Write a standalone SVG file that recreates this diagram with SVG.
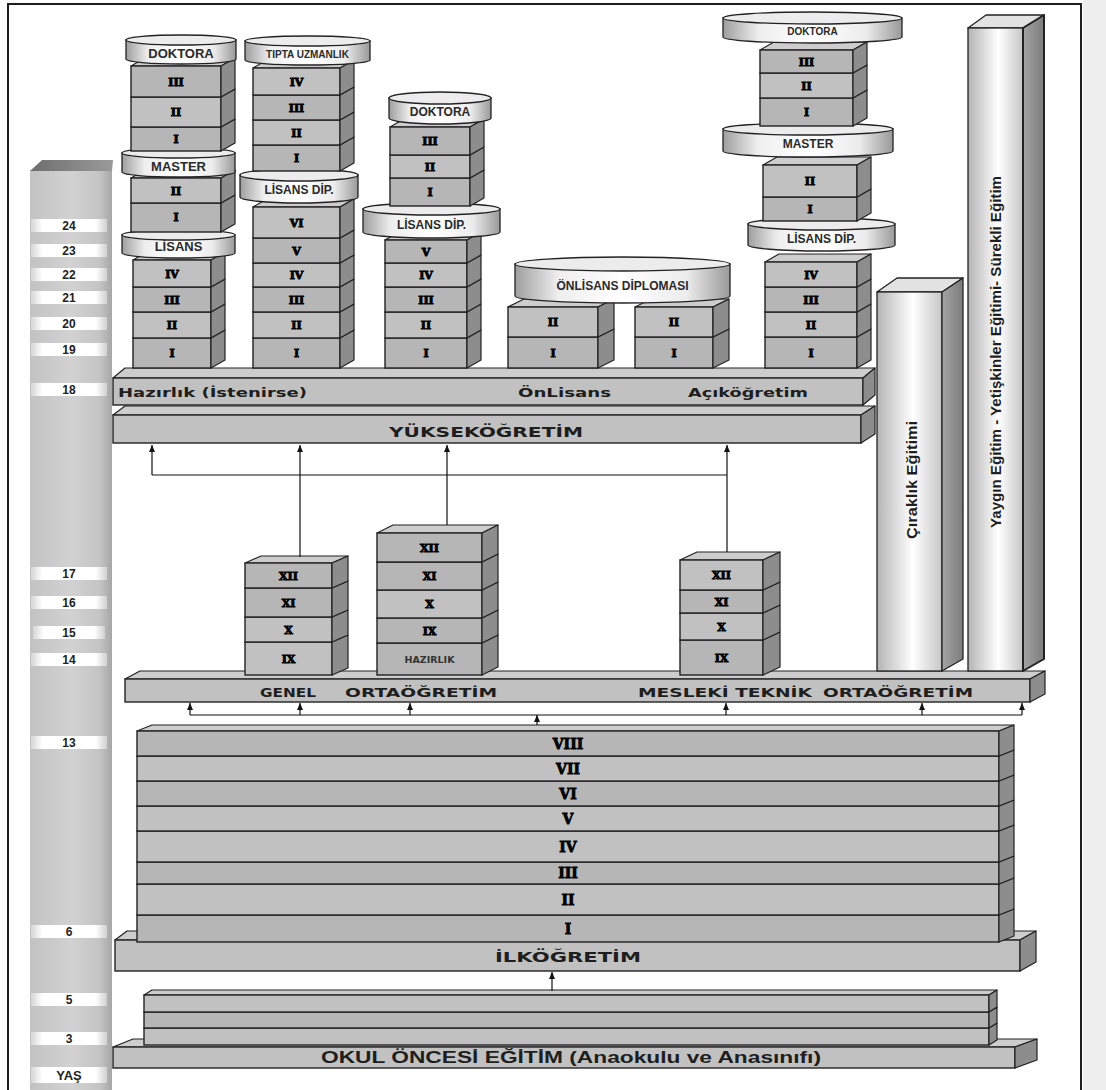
<svg xmlns="http://www.w3.org/2000/svg" width="1106" height="1090" viewBox="0 0 1106 1090">
<defs>
<linearGradient id="gCyl" x1="0" y1="0" x2="1" y2="0">
<stop offset="0" stop-color="#9e9e9e"/><stop offset="0.2" stop-color="#eeeeee"/><stop offset="0.5" stop-color="#ffffff"/><stop offset="0.8" stop-color="#ececec"/><stop offset="1" stop-color="#999999"/>
</linearGradient>
<linearGradient id="gCol" x1="0" y1="0" x2="1" y2="0">
<stop offset="0" stop-color="#b4b4b4"/><stop offset="0.55" stop-color="#ffffff"/><stop offset="1" stop-color="#c6c6c6"/>
</linearGradient>
<linearGradient id="gColS" x1="0" y1="0" x2="1" y2="0">
<stop offset="0" stop-color="#a4a4a4"/><stop offset="1" stop-color="#7c7c7c"/>
</linearGradient>
<linearGradient id="gAge" x1="0" y1="0" x2="1" y2="0">
<stop offset="0" stop-color="#c2c2c2"/><stop offset="0.5" stop-color="#d2d2d2"/><stop offset="0.85" stop-color="#c4c4c4"/><stop offset="1" stop-color="#a6a6a6"/>
</linearGradient>
<linearGradient id="gAgeTop" x1="0" y1="0" x2="1" y2="0">
<stop offset="0" stop-color="#6e6e6e"/><stop offset="1" stop-color="#9a9a9a"/>
</linearGradient>
<linearGradient id="gPill" x1="0" y1="0" x2="1" y2="0">
<stop offset="0" stop-color="#d6d6d6"/><stop offset="0.15" stop-color="#ffffff"/><stop offset="0.85" stop-color="#ffffff"/><stop offset="1" stop-color="#d0d0d0"/>
</linearGradient>
<marker id="ar" markerWidth="8" markerHeight="8" refX="7" refY="4" orient="auto" markerUnits="userSpaceOnUse">
<path d="M0,1 L7,4 L0,7 z" fill="#111"/>
</marker>
<style>
.a{fill:#b6b6b6;stroke:#222;stroke-width:1.4}
.b{fill:#c1c1c1;stroke:#222;stroke-width:1.4}
.s{fill:#8d8d8d;stroke:#222;stroke-width:1.2;stroke-linejoin:round}
.t{fill:#cdcdcd;stroke:#222;stroke-width:1.2;stroke-linejoin:round}
.cb{fill:url(#gCyl);stroke:#222;stroke-width:1.3}
.ct{fill:#ececec;stroke:#222;stroke-width:1.3}
.col{fill:url(#gCol);stroke:#222;stroke-width:1.3}
.cols{fill:url(#gColS);stroke:#222;stroke-width:1.3;stroke-linejoin:round}
.colt{fill:#e2e2e2;stroke:#222;stroke-width:1.3;stroke-linejoin:round}
.rn{font-family:"DejaVu Serif",serif;font-weight:bold;font-size:11px;text-anchor:middle;fill:#000;stroke:#000;stroke-width:0.9}
.rg{font-family:"DejaVu Serif",serif;font-weight:bold;font-size:14px;text-anchor:middle;fill:#000;stroke:#000;stroke-width:0.8}
.cl{font-family:"Liberation Sans",Arial,sans-serif;font-weight:bold;font-size:12px;text-anchor:middle;fill:#2a2a2a}
.bl{font-family:"DejaVu Sans",Verdana,sans-serif;font-weight:bold;font-size:13px;fill:#1e1e1e}
.vt{font-family:"Liberation Sans",Arial,sans-serif;font-weight:bold;font-size:15px;text-anchor:middle;fill:#1e1e1e}
.ag{font-family:"Liberation Sans",Arial,sans-serif;font-weight:bold;font-size:12px;text-anchor:middle;fill:#222}
.pl{fill:url(#gPill)}
.cn{stroke:#111;stroke-width:1.2;fill:none}
</style>
</defs>
<rect width="1106" height="1090" fill="#ffffff"/>
<rect x="1083" y="0" width="23" height="1090" fill="#eeeeee"/>
<rect x="8" y="4" width="1073" height="1100" fill="none" stroke="#1e1e1e" stroke-width="2"/>

<g id="age-column">
<rect x="30" y="170" width="82" height="925" fill="url(#gAge)"/>
<path d="M30,171 L42,160 H113 L112,171 Z" fill="url(#gAgeTop)"/>
<rect class="pl" x="31" y="219" width="76" height="13"/><text class="ag" x="69" y="230">24</text>
<rect class="pl" x="31" y="244" width="76" height="13"/><text class="ag" x="69" y="255">23</text>
<rect class="pl" x="31" y="268" width="76" height="13"/><text class="ag" x="69" y="279">22</text>
<rect class="pl" x="31" y="291" width="76" height="13"/><text class="ag" x="69" y="302">21</text>
<rect class="pl" x="31" y="317" width="76" height="13"/><text class="ag" x="69" y="328">20</text>
<rect class="pl" x="31" y="343" width="76" height="13"/><text class="ag" x="69" y="354">19</text>
<rect class="pl" x="31" y="383" width="76" height="13"/><text class="ag" x="69" y="394">18</text>
<rect class="pl" x="31" y="567" width="76" height="13"/><text class="ag" x="69" y="578">17</text>
<rect class="pl" x="31" y="596" width="76" height="13"/><text class="ag" x="69" y="607">16</text>
<rect class="pl" x="33" y="626" width="72" height="13"/><text class="ag" x="69" y="637">15</text>
<rect class="pl" x="31" y="653" width="76" height="13"/><text class="ag" x="69" y="664">14</text>
<rect class="pl" x="31" y="736" width="76" height="13"/><text class="ag" x="69" y="747">13</text>
<rect class="pl" x="31" y="925" width="76" height="13"/><text class="ag" x="69" y="936">6</text>
<rect class="pl" x="31" y="993" width="76" height="13"/><text class="ag" x="69" y="1004">5</text>
<rect class="pl" x="31" y="1032" width="76" height="13"/><text class="ag" x="69" y="1043">3</text>
<rect class="pl" x="31" y="1067" width="76" height="16"/><text class="ag" x="69" y="1080" style="font-size:13px">YAŞ</text>
</g>

<g id="hazirlik-bar">
<path class="t" d="M113,378 l12,-10 h750 l-12,10 z"/>
<rect class="b" x="113" y="378" width="750" height="27"/>
<path class="s" d="M863,378 l12,-10 v27 l-12,10 z"/>
<text class="bl" x="118" y="397" textLength="189" lengthAdjust="spacingAndGlyphs">Hazırlık (İstenirse)</text>
<text class="bl" x="518" y="397" textLength="93" lengthAdjust="spacingAndGlyphs">ÖnLisans</text>
<text class="bl" x="688" y="397" textLength="120" lengthAdjust="spacingAndGlyphs">Açıköğretim</text>
</g>
<g id="yuksekogretim-bar">
<path class="t" d="M113,415 l12,-9 h750 l-14,9 z"/>
<rect class="b" x="113" y="415" width="748" height="28"/>
<path class="s" d="M861,415 l14,-9 v28 l-14,9 z"/>
<text class="bl" x="486" y="437" text-anchor="middle" textLength="194" lengthAdjust="spacingAndGlyphs" style="font-size:14px">YÜKSEKÖĞRETİM</text>
</g>

<g id="stack-lisans">
<rect class="a" x="133" y="338" width="78" height="30"/><path class="s" d="M211,338 l14,-8 v30 l-14,8 z"/><text class="rn" x="172" y="357">I</text>
<rect class="b" x="133" y="312" width="78" height="26"/><path class="s" d="M211,312 l14,-8 v26 l-14,8 z"/><text class="rn" x="172" y="329">II</text>
<rect class="a" x="133" y="287" width="78" height="25"/><path class="s" d="M211,287 l14,-8 v25 l-14,8 z"/><text class="rn" x="172" y="304">III</text>
<path class="t" d="M133,260 l14,-8 h78 l-14,8 z"/>
<rect class="b" x="133" y="260" width="78" height="27"/><path class="s" d="M211,260 l14,-8 v27 l-14,8 z"/><text class="rn" x="172" y="278">IV</text>
<path class="cb" d="M122,235 V253 A56.5,5 0 0 0 235,253 V235 Z"/><ellipse class="ct" cx="178.5" cy="235" rx="56.5" ry="5"/>
<text class="cl" x="178.5" y="251" style="font-size:13px">LİSANS</text>
<rect class="a" x="131" y="203" width="90" height="29"/><path class="s" d="M221,203 l14,-8 v29 l-14,8 z"/><text class="rn" x="176" y="221">I</text>
<path class="t" d="M131,178 l14,-8 h90 l-14,8 z"/>
<rect class="b" x="131" y="178" width="90" height="25"/><path class="s" d="M221,178 l14,-8 v25 l-14,8 z"/><text class="rn" x="176" y="195">II</text>
<path class="cb" d="M122,153 V172 A56.5,5 0 0 0 235,172 V153 Z"/><ellipse class="ct" cx="178.5" cy="153" rx="56.5" ry="5"/>
<text class="cl" x="178.5" y="171" style="font-size:13px">MASTER</text>
<rect class="a" x="131" y="127" width="90" height="24"/><path class="s" d="M221,127 l14,-8 v24 l-14,8 z"/><text class="rn" x="176" y="143">I</text>
<rect class="b" x="131" y="97" width="90" height="30"/><path class="s" d="M221,97 l14,-8 v30 l-14,8 z"/><text class="rn" x="176" y="116">II</text>
<path class="t" d="M131,66 l14,-8 h90 l-14,8 z"/>
<rect class="a" x="131" y="66" width="90" height="31"/><path class="s" d="M221,66 l14,-8 v31 l-14,8 z"/><text class="rn" x="176" y="86">III</text>
<path class="cb" d="M126,40 V59 A55,5 0 0 0 236,59 V40 Z"/><ellipse class="ct" cx="181" cy="40" rx="55" ry="5"/>
<text class="cl" x="181" y="58" style="font-size:13px">DOKTORA</text>
</g>

<g id="stack-tip">
<rect class="a" x="253" y="338" width="87" height="30"/><path class="s" d="M340,338 l14,-8 v30 l-14,8 z"/><text class="rn" x="296.5" y="357">I</text>
<rect class="b" x="253" y="312" width="87" height="26"/><path class="s" d="M340,312 l14,-8 v26 l-14,8 z"/><text class="rn" x="296.5" y="329">II</text>
<rect class="a" x="253" y="287" width="87" height="25"/><path class="s" d="M340,287 l14,-8 v25 l-14,8 z"/><text class="rn" x="296.5" y="304">III</text>
<rect class="b" x="253" y="263" width="87" height="24"/><path class="s" d="M340,263 l14,-8 v24 l-14,8 z"/><text class="rn" x="296.5" y="279">IV</text>
<rect class="a" x="253" y="238" width="87" height="25"/><path class="s" d="M340,238 l14,-8 v25 l-14,8 z"/><text class="rn" x="296.5" y="255">V</text>
<path class="t" d="M253,207 l14,-8 h87 l-14,8 z"/>
<rect class="b" x="253" y="207" width="87" height="31"/><path class="s" d="M340,207 l14,-8 v31 l-14,8 z"/><text class="rn" x="296.5" y="227">VI</text>
<path class="cb" d="M240,175 V197 A59,6 0 0 0 358,197 V175 Z"/><ellipse class="ct" cx="299" cy="175" rx="59" ry="6"/>
<text class="cl" x="299" y="194">LİSANS DİP.</text>
<rect class="a" x="253" y="145" width="87" height="26"/><path class="s" d="M340,145 l14,-8 v26 l-14,8 z"/><text class="rn" x="296.5" y="162">I</text>
<rect class="b" x="253" y="120" width="87" height="25"/><path class="s" d="M340,120 l14,-8 v25 l-14,8 z"/><text class="rn" x="296.5" y="137">II</text>
<rect class="a" x="253" y="95" width="87" height="25"/><path class="s" d="M340,95 l14,-8 v25 l-14,8 z"/><text class="rn" x="296.5" y="112">III</text>
<path class="t" d="M253,68 l14,-8 h87 l-14,8 z"/>
<rect class="b" x="253" y="68" width="87" height="27"/><path class="s" d="M340,68 l14,-8 v27 l-14,8 z"/><text class="rn" x="296.5" y="86">IV</text>
<path class="cb" d="M245,41 V60 A62.5,5 0 0 0 370,60 V41 Z"/><ellipse class="ct" cx="307.5" cy="41" rx="62.5" ry="5"/>
<text class="cl" x="307.5" y="58" style="font-size:10px">TIPTA UZMANLIK</text>
</g>

<g id="stack-doktora-mid">
<rect class="a" x="385" y="338" width="82" height="30"/><path class="s" d="M467,338 l14,-8 v30 l-14,8 z"/><text class="rn" x="426" y="357">I</text>
<rect class="b" x="385" y="312" width="82" height="26"/><path class="s" d="M467,312 l14,-8 v26 l-14,8 z"/><text class="rn" x="426" y="329">II</text>
<rect class="a" x="385" y="287" width="82" height="25"/><path class="s" d="M467,287 l14,-8 v25 l-14,8 z"/><text class="rn" x="426" y="304">III</text>
<rect class="b" x="385" y="263" width="82" height="24"/><path class="s" d="M467,263 l14,-8 v24 l-14,8 z"/><text class="rn" x="426" y="279">IV</text>
<path class="t" d="M385,240 l14,-8 h82 l-14,8 z"/>
<rect class="a" x="385" y="240" width="82" height="23"/><path class="s" d="M467,240 l14,-8 v23 l-14,8 z"/><text class="rn" x="426" y="256">V</text>
<path class="cb" d="M363,209 V232 A68.5,6 0 0 0 500,232 V209 Z"/><ellipse class="ct" cx="431.5" cy="209" rx="68.5" ry="6"/>
<text class="cl" x="431.5" y="229">LİSANS DİP.</text>
<rect class="a" x="390" y="178" width="80" height="28"/><path class="s" d="M470,178 l14,-8 v28 l-14,8 z"/><text class="rn" x="430" y="196">I</text>
<rect class="b" x="390" y="155" width="80" height="23"/><path class="s" d="M470,155 l14,-8 v23 l-14,8 z"/><text class="rn" x="430" y="171">II</text>
<path class="t" d="M390,127 l14,-8 h80 l-14,8 z"/>
<rect class="a" x="390" y="127" width="80" height="28"/><path class="s" d="M470,127 l14,-8 v28 l-14,8 z"/><text class="rn" x="430" y="145">III</text>
<path class="cb" d="M389,98 V118 A51,6 0 0 0 491,118 V98 Z"/><ellipse class="ct" cx="440" cy="98" rx="51" ry="6"/>
<text class="cl" x="440" y="116">DOKTORA</text>
</g>

<g id="stack-onlisans">
<rect class="a" x="508" y="337" width="90" height="31"/><path class="s" d="M598,337 l16,-8 v31 l-16,8 z"/><text class="rn" x="553" y="357">I</text>
<path class="t" d="M508,307 l16,-8 h90 l-16,8 z"/>
<rect class="b" x="508" y="307" width="90" height="30"/><path class="s" d="M598,307 l16,-8 v30 l-16,8 z"/><text class="rn" x="553" y="326">II</text>
<rect class="a" x="635" y="337" width="78" height="31"/><path class="s" d="M713,337 l16,-8 v31 l-16,8 z"/><text class="rn" x="674" y="357">I</text>
<path class="t" d="M635,307 l16,-8 h78 l-16,8 z"/>
<rect class="b" x="635" y="307" width="78" height="30"/><path class="s" d="M713,307 l16,-8 v30 l-16,8 z"/><text class="rn" x="674" y="326">II</text>
<path class="cb" d="M515,264 V296 A107.5,7 0 0 0 730,296 V264 Z"/><ellipse class="ct" cx="622.5" cy="264" rx="107.5" ry="7"/>
<text class="cl" x="622.5" y="290">ÖNLİSANS DİPLOMASI</text>
</g>

<g id="stack-right">
<rect class="a" x="765" y="337" width="92" height="31"/><path class="s" d="M857,337 l14,-8 v31 l-14,8 z"/><text class="rn" x="811" y="357">I</text>
<rect class="b" x="765" y="312" width="92" height="25"/><path class="s" d="M857,312 l14,-8 v25 l-14,8 z"/><text class="rn" x="811" y="329">II</text>
<rect class="a" x="765" y="287" width="92" height="25"/><path class="s" d="M857,287 l14,-8 v25 l-14,8 z"/><text class="rn" x="811" y="304">III</text>
<path class="t" d="M765,262 l14,-8 h92 l-14,8 z"/>
<rect class="b" x="765" y="262" width="92" height="25"/><path class="s" d="M857,262 l14,-8 v25 l-14,8 z"/><text class="rn" x="811" y="279">IV</text>
<path class="cb" d="M748,224 V245 A73.5,6 0 0 0 895,245 V224 Z"/><ellipse class="ct" cx="821.5" cy="224" rx="73.5" ry="6"/>
<text class="cl" x="821.5" y="243">LİSANS DİP.</text>
<rect class="a" x="763" y="197" width="94" height="24"/><path class="s" d="M857,197 l14,-8 v24 l-14,8 z"/><text class="rn" x="810" y="213">I</text>
<path class="t" d="M763,165 l14,-8 h94 l-14,8 z"/>
<rect class="b" x="763" y="165" width="94" height="32"/><path class="s" d="M857,165 l14,-8 v32 l-14,8 z"/><text class="rn" x="810" y="185">II</text>
<path class="cb" d="M723,129 V151 A85,6 0 0 0 893,151 V129 Z"/><ellipse class="ct" cx="808" cy="129" rx="85" ry="6"/>
<text class="cl" x="808" y="148">MASTER</text>
<rect class="a" x="760" y="98" width="93" height="28"/><path class="s" d="M853,98 l14,-8 v28 l-14,8 z"/><text class="rn" x="806.5" y="116">I</text>
<rect class="b" x="760" y="73" width="93" height="25"/><path class="s" d="M853,73 l14,-8 v25 l-14,8 z"/><text class="rn" x="806.5" y="90">II</text>
<path class="t" d="M760,50 l14,-8 h93 l-14,8 z"/>
<rect class="a" x="760" y="50" width="93" height="23"/><path class="s" d="M853,50 l14,-8 v23 l-14,8 z"/><text class="rn" x="806.5" y="66">III</text>
<path class="cb" d="M723,18 V37 A89.5,6 0 0 0 902,37 V18 Z"/><ellipse class="ct" cx="812.5" cy="18" rx="89.5" ry="6"/>
<text class="cl" x="812.5" y="35" style="font-size:10px">DOKTORA</text>
</g>

<g id="ortaogretim-bar">
<path class="t" d="M125,679 l15,-8 h905 l-15,8 z"/>
<rect class="b" x="125" y="679" width="905" height="23"/>
<path class="s" d="M1030,679 l15,-8 v23 l-15,8 z"/>
<text class="bl" x="260" y="697" textLength="56" lengthAdjust="spacingAndGlyphs">GENEL</text>
<text class="bl" x="345" y="697" textLength="152" lengthAdjust="spacingAndGlyphs">ORTAÖĞRETİM</text>
<text class="bl" x="638" y="697" textLength="174" lengthAdjust="spacingAndGlyphs">MESLEKİ TEKNİK</text>
<text class="bl" x="823" y="697" textLength="150" lengthAdjust="spacingAndGlyphs">ORTAÖĞRETİM</text>
</g>

<g id="ciraklik">
<path class="colt" d="M877,292 L897,278 H963 L942,292 Z"/>
<rect class="col" x="877" y="292" width="65" height="379"/>
<path class="cols" d="M942,292 L963,278 V659 L942,671 Z"/>
<text class="vt" transform="translate(912,480) rotate(-90)" x="0" y="5" textLength="118" lengthAdjust="spacingAndGlyphs">Çıraklık Eğitimi</text>
</g>
<g id="yaygin">
<path class="colt" d="M968,28 L986,15 H1044 L1023,28 Z"/>
<rect class="col" x="968" y="28" width="55" height="643"/>
<path class="cols" d="M1023,28 L1044,15 V659 L1023,671 Z" style="stroke-width:2"/>
<text class="vt" transform="translate(996,352) rotate(-90)" x="0" y="5" textLength="352" lengthAdjust="spacingAndGlyphs">Yaygın Eğitim - Yetişkinler Eğitimi- Sürekli Eğitim</text>
</g>

<g id="stack-genel">
<rect class="b" x="245" y="642" width="87" height="33"/><path class="s" d="M332,642 l16,-7 v33 l-16,7 z"/><text class="rn" x="288.5" y="663">IX</text>
<rect class="b" x="245" y="617" width="87" height="25"/><path class="s" d="M332,617 l16,-7 v25 l-16,7 z"/><text class="rn" x="288.5" y="634">X</text>
<rect class="a" x="245" y="588" width="87" height="29"/><path class="s" d="M332,588 l16,-7 v29 l-16,7 z"/><text class="rn" x="288.5" y="607">XI</text>
<path class="t" d="M245,563 l16,-7 h87 l-16,7 z"/>
<rect class="a" x="245" y="563" width="87" height="25"/><path class="s" d="M332,563 l16,-7 v25 l-16,7 z"/><text class="rn" x="288.5" y="580">XII</text>
</g>
<g id="stack-hazirlik">
<rect class="a" x="377" y="643" width="105" height="32"/><path class="s" d="M482,643 l16,-8 v32 l-16,8 z"/>
<text x="429.5" y="663" text-anchor="middle" style="font-family:'DejaVu Sans',Verdana,sans-serif;font-weight:bold;font-size:9.5px;fill:#333">HAZIRLIK</text>
<rect class="a" x="377" y="618" width="105" height="25"/><path class="s" d="M482,618 l16,-8 v25 l-16,8 z"/><text class="rn" x="429.5" y="635">IX</text>
<rect class="b" x="377" y="590" width="105" height="28"/><path class="s" d="M482,590 l16,-8 v28 l-16,8 z"/><text class="rn" x="429.5" y="608">X</text>
<rect class="a" x="377" y="562" width="105" height="28"/><path class="s" d="M482,562 l16,-8 v28 l-16,8 z"/><text class="rn" x="429.5" y="580">XI</text>
<path class="t" d="M377,533 l16,-8 h105 l-16,8 z"/>
<rect class="a" x="377" y="533" width="105" height="29"/><path class="s" d="M482,533 l16,-8 v29 l-16,8 z"/><text class="rn" x="429.5" y="552">XII</text>
</g>
<g id="stack-meslek">
<rect class="a" x="680" y="640" width="83" height="35"/><path class="s" d="M763,640 l17,-8 v35 l-17,8 z"/><text class="rn" x="721.5" y="662">IX</text>
<rect class="b" x="680" y="613" width="83" height="27"/><path class="s" d="M763,613 l17,-8 v27 l-17,8 z"/><text class="rn" x="721.5" y="631">X</text>
<rect class="a" x="680" y="590" width="83" height="23"/><path class="s" d="M763,590 l17,-8 v23 l-17,8 z"/><text class="rn" x="721.5" y="606">XI</text>
<path class="t" d="M680,560 l17,-8 h83 l-17,8 z"/>
<rect class="b" x="680" y="560" width="83" height="30"/><path class="s" d="M763,560 l17,-8 v30 l-17,8 z"/><text class="rn" x="721.5" y="579">XII</text>
</g>

<g id="ilkogretim-bar">
<path class="t" d="M115,940 l12,-9 h909 l-16,9 z"/>
<rect class="b" x="115" y="940" width="905" height="31"/>
<path class="s" d="M1020,940 l16,-9 v31 l-16,9 z"/>
<text class="bl" x="568" y="962" text-anchor="middle" textLength="146" lengthAdjust="spacingAndGlyphs" style="font-size:14px">İLKÖĞRETİM</text>
</g>
<g id="ilkogretim-grades">
<rect class="a" x="137" y="915" width="862" height="27"/><path class="s" d="M999,915 l15,-6 v27 l-15,6 z"/><text class="rg" x="568" y="934">I</text>
<rect class="b" x="137" y="884" width="862" height="31"/><path class="s" d="M999,884 l15,-6 v31 l-15,6 z"/><text class="rg" x="568" y="905">II</text>
<rect class="a" x="137" y="862" width="862" height="22"/><path class="s" d="M999,862 l15,-6 v22 l-15,6 z"/><text class="rg" x="568" y="878">III</text>
<rect class="b" x="137" y="831" width="862" height="31"/><path class="s" d="M999,831 l15,-6 v31 l-15,6 z"/><text class="rg" x="568" y="852">IV</text>
<rect class="b" x="137" y="806" width="862" height="25"/><path class="s" d="M999,806 l15,-6 v25 l-15,6 z"/><text class="rg" x="568" y="824">V</text>
<rect class="a" x="137" y="781" width="862" height="25"/><path class="s" d="M999,781 l15,-6 v25 l-15,6 z"/><text class="rg" x="568" y="799">VI</text>
<rect class="b" x="137" y="756" width="862" height="25"/><path class="s" d="M999,756 l15,-6 v25 l-15,6 z"/><text class="rg" x="568" y="774">VII</text>
<path class="t" d="M137,731 l15,-6 h862 l-15,6 z"/>
<rect class="a" x="137" y="731" width="862" height="25"/><path class="s" d="M999,731 l15,-6 v25 l-15,6 z"/><text class="rg" x="568" y="749">VIII</text>
</g>

<g id="okul-oncesi">
<path class="t" d="M113,1047 l20,-8 h904 l-22,8 z"/>
<rect class="b" x="113" y="1047" width="902" height="21"/>
<path class="s" d="M1015,1047 l22,-8 v21 l-22,8 z"/>
<text class="vt" x="571" y="1063" textLength="500" lengthAdjust="spacingAndGlyphs" style="font-size:17px">OKUL ÖNCESİ EĞİTİM (Anaokulu ve Anasınıfı)</text>
<rect class="b" x="144" y="1028" width="845" height="17"/><path class="s" d="M989,1028 l8,-5 v17 l-8,5 z"/>
<rect class="a" x="144" y="1012" width="845" height="16"/><path class="s" d="M989,1012 l8,-5 v16 l-8,5 z"/>
<path class="t" d="M144,995 l8,-5 h845 l-8,5 z"/>
<rect class="b" x="144" y="995" width="845" height="17"/><path class="s" d="M989,995 l8,-5 v17 l-8,5 z"/>
</g>

<g id="connectors">
<path class="cn" d="M152,475 H727"/>
<path class="cn" d="M152,475 V445" marker-end="url(#ar)"/>
<path class="cn" d="M300,557 V445" marker-end="url(#ar)"/>
<path class="cn" d="M447,525 V445" marker-end="url(#ar)"/>
<path class="cn" d="M727,552 V445" marker-end="url(#ar)"/>
<path class="cn" d="M190,715 H1022"/>
<path class="cn" d="M190,715 V703" marker-end="url(#ar)"/>
<path class="cn" d="M300,715 V703" marker-end="url(#ar)"/>
<path class="cn" d="M410,715 V703" marker-end="url(#ar)"/>
<path class="cn" d="M726,715 V703" marker-end="url(#ar)"/>
<path class="cn" d="M922,715 V703" marker-end="url(#ar)"/>
<path class="cn" d="M1022,715 V703" marker-end="url(#ar)"/>
<path class="cn" d="M537,725 V715" marker-end="url(#ar)"/>
<path class="cn" d="M552,991 V972" marker-end="url(#ar)"/>
</g>
</svg>
